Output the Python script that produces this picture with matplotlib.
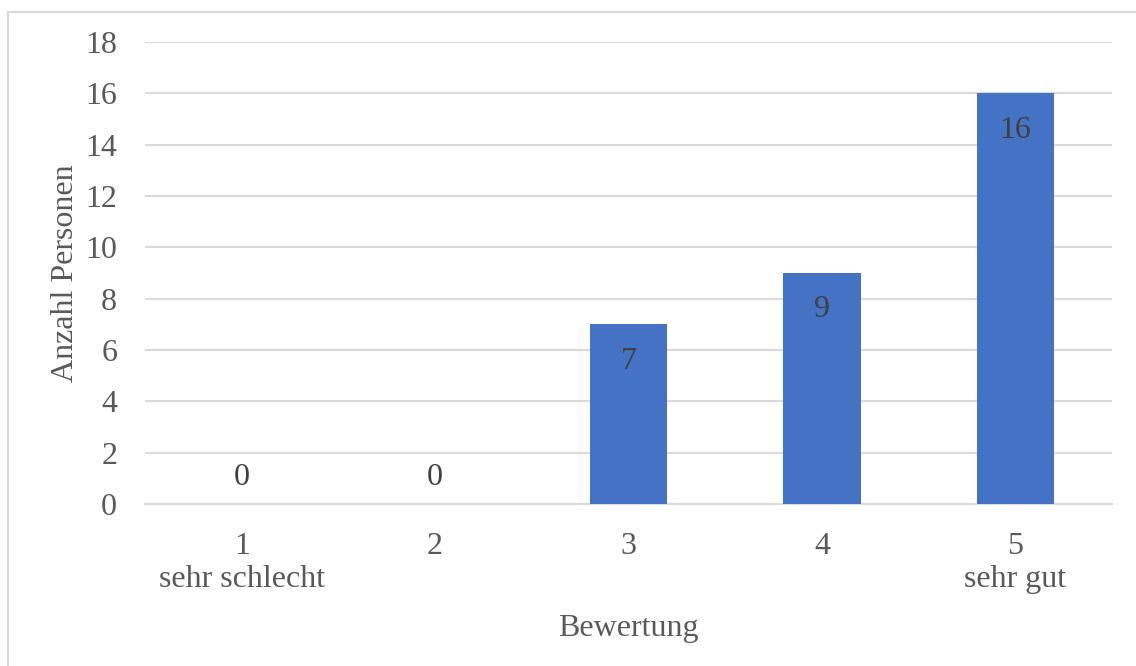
import matplotlib
matplotlib.use("Agg")
import matplotlib.pyplot as plt
from matplotlib.patches import Rectangle

# Survey results: number of people per rating
ratings = ["1\nsehr schlecht", "2", "3", "4", "5\nsehr gut"]
counts = [0, 0, 7, 9, 16]
y_ticks = [0, 2, 4, 6, 8, 10, 12, 14, 16, 18]

plt.rcParams["font.family"] = ["Liberation Serif", "DejaVu Serif"]

fig = plt.figure(figsize=(11.36, 6.66), dpi=100)
ax = fig.add_axes([145 / 1136, 1 - 504 / 666, (1112 - 145) / 1136, (504 - 42) / 666])

text_gray = "#595959"
label_gray = "#404040"
grid_gray = "#D9D9D9"
bar_blue = "#4472C4"
fs = 23

x = list(range(len(ratings)))
ax.bar(x, counts, width=0.4, color=bar_blue, zorder=3)

for xi, v in zip(x, counts):
    offset = -26.5 if v > 0 else 19
    ax.annotate(str(v), (xi, v), xytext=(0, offset), textcoords="offset points",
                ha="center", va="center", fontsize=fs, color=label_gray, zorder=4)

ax.set_xlim(-0.5, len(ratings) - 0.5)
ax.set_ylim(0, 18)
ax.set_yticks(y_ticks)
ax.set_yticklabels([str(t) for t in y_ticks])
ax.set_xticks(x)
ax.set_xticklabels(ratings, linespacing=1.2)

ax.grid(axis="y", color=grid_gray, linewidth=1.5, zorder=0)
ax.grid(axis="x", visible=False)
for side in ["top", "right", "left"]:
    ax.spines[side].set_visible(False)
ax.spines["bottom"].set_color(grid_gray)
ax.spines["bottom"].set_linewidth(1.5)
ax.tick_params(axis="both", length=0, labelsize=fs, colors=text_gray)
ax.tick_params(axis="y", pad=20)
ax.tick_params(axis="x", pad=20)

ax.set_xlabel("Bewertung", fontsize=fs, color=text_gray, labelpad=14)
ax.set_ylabel("Anzahl Personen", fontsize=fs, color=text_gray, labelpad=4)

# chart area frame
fig.patches.append(Rectangle((8 / 1136, -0.05), 1.1, 1 - 12 / 666 + 0.05,
                             transform=fig.transFigure, fill=False,
                             edgecolor=grid_gray, linewidth=1.5))

fig.savefig("out.png", dpi=100)
